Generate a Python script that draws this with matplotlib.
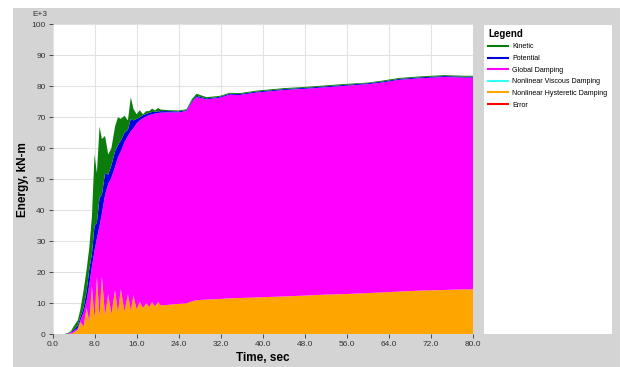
import numpy as np
import matplotlib
matplotlib.use("Agg")
import matplotlib.pyplot as plt
from matplotlib.lines import Line2D
from matplotlib.patches import Rectangle

plt.rcParams['font.family'] = ['Liberation Sans', 'DejaVu Sans']

# Energy components (x1000 kN-m) vs time (sec)
time = [0, 2.0, 2.5, 3.0, 3.5, 4.0, 4.8, 5.3, 5.9, 6.5, 7.0, 7.5, 8.0, 8.45, 8.95,
        9.4, 10.0, 10.6, 11.2, 11.9, 12.45, 13.0, 13.7, 14.35, 14.9, 15.4, 16.0,
        16.6, 17.2, 17.85, 18.4, 18.95, 19.5, 20.1, 20.6, 22, 24, 25.5, 26.5, 27.4,
        29.3, 31.8, 33.7, 35.6, 38.8, 44, 48, 52, 56, 60, 62.6, 66, 70, 74.5, 78.6, 80]
hysteretic = [0, 0, 0.05, 0.1, 0.2, 0.5, 1.5, 4.0, 2.5, 8.5, 4.0, 15.5, 5.0, 18.5, 5.5,
              18.7, 6.0, 13.0, 6.5, 14.2, 7.0, 14.6, 7.3, 13.0, 7.6, 12.5, 8.0,
              10.5, 8.5, 10.0, 8.8, 10.4, 9.0, 10.4, 9.3, 9.5, 9.8, 10.0, 10.6, 11.0,
              11.2, 11.4, 11.6, 11.7, 11.9, 12.2, 12.5, 12.8, 13.0, 13.3, 13.5, 13.8,
              14.1, 14.3, 14.5, 14.5]
viscous = [0] * len(time)
global_damping = [0, 0, 0.05, 0.15, 0.3, 0.5, 0.5, 0.5, 4.5, 2.5, 12, 6.5, 22, 12.5, 29.5,
                  20.3, 39, 35.5, 44, 39.8, 50, 44.4, 54.7, 51, 57.9, 54, 60,
                  58.5, 61.2, 60.3, 61.9, 60.6, 62.2, 61, 62.2, 62.1, 61.8, 62, 64.2, 65.5,
                  64.6, 64.9, 65.7, 65.5, 66.1, 66.6, 66.7, 66.9, 67.2, 67.4, 67.7, 68.3,
                  68.5, 68.7, 68.3, 68.3]
potential = [0, 0, 0.05, 0.1, 0.2, 0.4, 0.8, 1.0, 1.5, 3.0, 5.0, 4.0, 8.0, 5.0, 9.0,
             6.0, 7.0, 3.0, 4.0, 5.0, 4.0, 3.5, 3.0, 2.0, 4.0, 2.5, 1.5,
             1.0, 1.0, 0.8, 0.8, 0.7, 0.6, 0.5, 0.5, 0.4, 0.3, 0.3, 0.4, 0.4,
             0.3, 0.3, 0.3, 0.3, 0.3, 0.3, 0.3, 0.3, 0.3, 0.3, 0.3, 0.3,
             0.3, 0.3, 0.3, 0.3]
kinetic = [0, 0, 0.05, 0.15, 0.3, 1.1, 1.7, 2.5, 5.5, 7, 7, 12, 23, 16, 23,
           18, 12, 6.5, 5.5, 8, 9, 7, 5.5, 3, 7, 3.7, 1.5,
           2.3, 0.3, 0.9, 0.5, 1.1, 0.4, 1.1, 0.5, 0.3, 0.3, 0.3, 0.6, 0.7,
           0.4, 0.3, 0.3, 0.3, 0.3, 0.3, 0.3, 0.3, 0.3, 0.2, 0.3, 0.3,
           0.3, 0.3, 0.3, 0.3]
error = [0] * len(time)

names = ['Kinetic', 'Potential', 'Global Damping', 'Nonlinear Viscous Damping',
         'Nonlinear Hysteretic Damping', 'Error']
colors = {'Kinetic': '#0a7d0a', 'Potential': '#0000e0', 'Global Damping': '#ff00ff',
          'Nonlinear Viscous Damping': '#33ffff', 'Nonlinear Hysteretic Damping': '#ffa500',
          'Error': '#ff0000'}

fig = plt.figure(figsize=(6.22, 3.67), dpi=100)
fig.patch.set_facecolor('white')
# grey panel behind everything
panel = Rectangle((13 / 622, 0), 607 / 622, 359 / 367, transform=fig.transFigure,
                  facecolor='#d4d4d4', edgecolor='none', zorder=-10)
fig.add_artist(panel)

ax = fig.add_axes([52.5 / 622, 1 - 334.3 / 367, 420.5 / 622, 310 / 367])
ax.set_facecolor('white')
layers = [hysteretic, viscous, global_damping, potential, kinetic, error]
layer_names = ['Nonlinear Hysteretic Damping', 'Nonlinear Viscous Damping', 'Global Damping',
               'Potential', 'Kinetic', 'Error']
ax.stackplot(time, *layers, colors=[colors[n] for n in layer_names], linewidth=0, zorder=2)

ax.set_xlim(0, 80)
ax.set_ylim(0, 100)
ax.set_xticks(np.arange(0, 81, 8))
ax.set_xticklabels([f'{v:.1f}' for v in np.arange(0, 81, 8)])
ax.set_yticks(np.arange(0, 101, 10))
ax.grid(True, color='#e2e2e2', linewidth=0.8, zorder=1)
ax.set_axisbelow(True)
for s in ax.spines.values():
    s.set_visible(False)
ax.tick_params(axis='both', labelsize=6, colors='#333333', length=3, width=0.6, pad=2)

ax.set_xlabel('Time, sec', fontsize=8.5, fontweight='bold', labelpad=3)
ax.set_ylabel('Energy, kN-m', fontsize=8.5, fontweight='bold', labelpad=2)
fig.text(40 / 622, 1 - 14 / 367, 'E+3', fontsize=6, color='#333333', ha='center', va='center')

# legend panel
lax = fig.add_axes([484 / 622, 1 - 334 / 367, 128 / 622, 309 / 367])
lax.set_xticks([])
lax.set_yticks([])
for s in lax.spines.values():
    s.set_visible(False)
lax.set_facecolor('white')
handles = [Line2D([0], [0], color=colors[n], lw=1.5) for n in names]
leg = lax.legend(handles, names, loc='upper left', bbox_to_anchor=(0.0, 1.0), frameon=False,
                 title='Legend', fontsize=5.1, handlelength=2.8, handletextpad=0.6,
                 labelspacing=0.65, borderaxespad=0.15)
leg.get_title().set_fontweight('bold')
leg.get_title().set_fontsize(7)
leg._legend_box.align = 'left'

fig.savefig('out.png', dpi=100)
